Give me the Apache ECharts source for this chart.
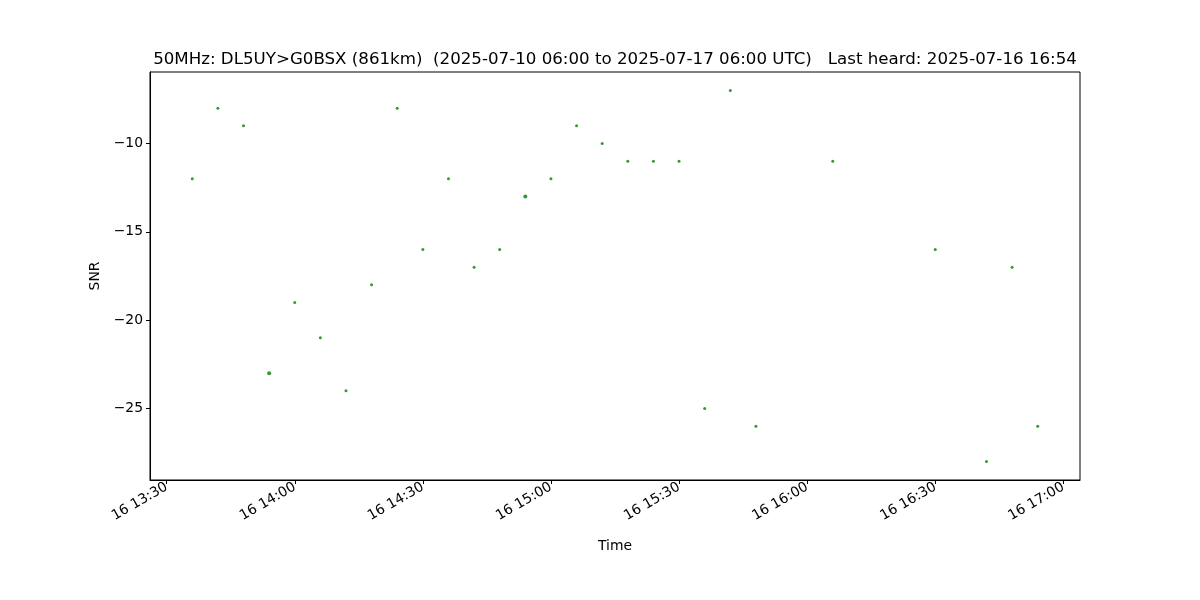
<!DOCTYPE html>
<html>
<head>
<meta charset="utf-8">
<script src="https://cdn.jsdelivr.net/npm/echarts@6/dist/echarts.min.js"></script>
<style>html,body{margin:0;padding:0;background:#fff;}#c{width:1200px;height:600px;}</style>
</head>
<body>
<div id="c"></div>
<script>
// Spot times (UTC, 2025-07-16) and SNR values
const day = '2025-07-16';
const times = ['13:36','13:42','13:48','13:54','14:00','14:06','14:12','14:18','14:24','14:30',
  '14:36','14:42','14:48','14:54','15:00','15:06','15:12','15:18','15:24','15:30',
  '15:36','15:42','15:48','16:06','16:30','16:42','16:48','16:54'];
const snr = [-12,-8,-9,-23,-19,-21,-24,-18,-8,-16,
  -12,-17,-16,-13,-12,-9,-10,-11,-11,-11,
  -25,-7,-26,-11,-16,-28,-17,-26];
// number of reports at each point (overlapping spots look bolder)
const reports = [1,1,1,2,1,1,1,1,1,1, 1,1,1,2,1,1,1,1,1,1, 1,1,1,1,1,1,1,1];
const xTickLabels = ['13:30','14:00','14:30','15:00','15:30','16:00','16:30','17:00'];
const yTickValues = [-25,-20,-15,-10];
const titleText = '50MHz: DL5UY>G0BSX (861km)  (2025-07-10 06:00 to 2025-07-17 06:00 UTC)   Last heard: 2025-07-16 16:54';

function ts(hm){ const [h,m]=hm.split(':').map(Number); return Date.UTC(2025,6,16,h,m,0); }
const data = times.map((t,i)=>[ts(t), snr[i], reports[i]]);
const tMin = Math.min(...data.map(d=>d[0])), tMax = Math.max(...data.map(d=>d[0]));
const yMin = Math.min(...snr), yMax = Math.max(...snr);
const xPad = (tMax-tMin)*0.05, yPad = (yMax-yMin)*0.05;
const xTicks = xTickLabels.map(ts);
const pad2 = n => (n<10?'0':'')+n;

const font = 'DejaVu Sans';
const chart = echarts.init(document.getElementById('c'), null, {renderer:'canvas'});
chart.setOption({
  animation:false,
  backgroundColor:'#ffffff',
  title:{text:titleText,left:610,textAlign:'center',top:46,
    textStyle:{fontFamily:font,fontSize:16.67,fontWeight:'normal',color:'#000'}},
  grid:{left:150,right:120,top:72,bottom:120,show:true,borderColor:'#000',borderWidth:1,backgroundColor:'transparent'},
  xAxis:{type:'value',min:tMin-xPad,max:tMax+xPad,scale:true,
    name:'Time',nameLocation:'middle',nameGap:59,
    nameTextStyle:{fontFamily:font,fontSize:13.9,color:'#000'},
    axisLine:{show:true,onZero:false,lineStyle:{color:'#000',width:1}},
    axisTick:{show:true,length:4,inside:false,customValues:xTicks,lineStyle:{color:'#000'}},
    axisLabel:{customValues:xTicks,rotate:30,margin:6,fontFamily:font,fontSize:13.9,color:'#000',
      formatter:v=>{const d=new Date(v);return '16 '+pad2(d.getUTCHours())+':'+pad2(d.getUTCMinutes());}},
    splitLine:{show:false}},
  yAxis:{type:'value',min:yMin-yPad,max:yMax+yPad,scale:true,
    name:'SNR',nameLocation:'middle',nameGap:47,nameRotate:90,
    nameTextStyle:{fontFamily:font,fontSize:13.9,color:'#000'},
    axisLine:{show:true,onZero:false,lineStyle:{color:'#000',width:1}},
    axisTick:{show:true,length:4,customValues:yTickValues,lineStyle:{color:'#000'}},
    axisLabel:{customValues:yTickValues,margin:7,fontFamily:font,fontSize:13.9,color:'#000',
      formatter:v=>String(v).replace('-','\u2212')},
    splitLine:{show:false}},
  series:[{type:'scatter',data:data,
    symbol:'circle',symbolSize:d=>d[2]>1?4:3,
    itemStyle:{color:'#008000'}}]
});
</script>
</body>
</html>
